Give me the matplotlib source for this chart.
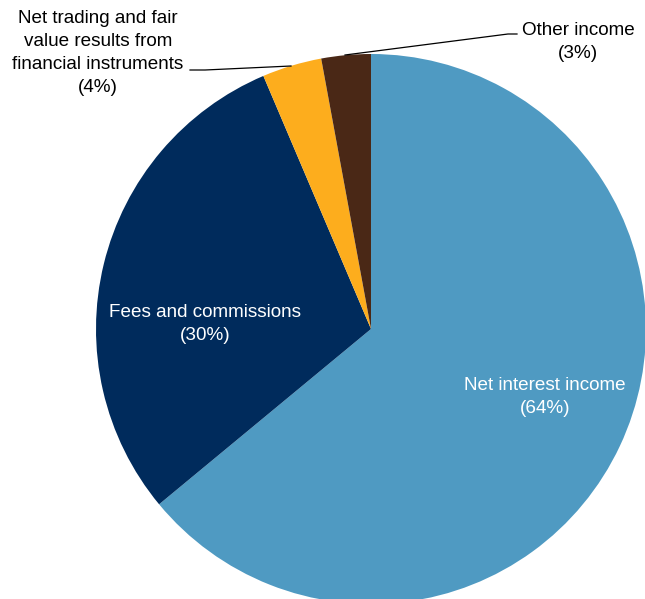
import matplotlib.pyplot as plt

plt.rcParams['font.family'] = ['Liberation Sans', 'DejaVu Sans']

# income breakdown, share of total (%)
categories = ['Net interest income', 'Fees and commissions',
              'Net trading and fair\nvalue results from\nfinancial instruments',
              'Other income']
shares = [64.0, 29.6, 3.5, 2.9]
colors = ['#4F9AC2', '#002B5C', '#FDAD1D', '#4A2816']

W, H = 645, 599
fig = plt.figure(figsize=(W / 100, H / 100), dpi=100)
ax = fig.add_axes([0, 0, 1, 1])

cx, cy, r = 371, H - 329, 275
ax.pie(shares, colors=colors, startangle=90, counterclock=False,
       center=(cx, cy), radius=r, frame=True,
       wedgeprops=dict(linewidth=0))
ax.set_xlim(0, W)
ax.set_ylim(0, H)
ax.set_aspect('equal')
ax.axis('off')

labels = [f'{c}\n({s:.0f}%)' for c, s in zip(categories, shares)]
fs = 13.6
ls = 1.45

# labels inside the two big wedges
ax.text(545, H - 397, labels[0], color='white', fontsize=fs,
        ha='center', va='center', linespacing=ls)
ax.text(205, H - 324, labels[1], color='white', fontsize=fs,
        ha='center', va='center', linespacing=ls)

# outside labels with leader lines
ax.text(98, H - 53, labels[2], color='black', fontsize=fs,
        ha='center', va='center', linespacing=ls)
ax.plot([190, 205, 291], [H - 70, H - 70, H - 66], color='black', lw=0.9)

ax.text(578, H - 42, labels[3], color='black', fontsize=fs,
        ha='center', va='center', linespacing=ls)
ax.plot([345, 508, 517], [H - 55, H - 34, H - 34], color='black', lw=0.9)

fig.savefig('out.png', dpi=100)
